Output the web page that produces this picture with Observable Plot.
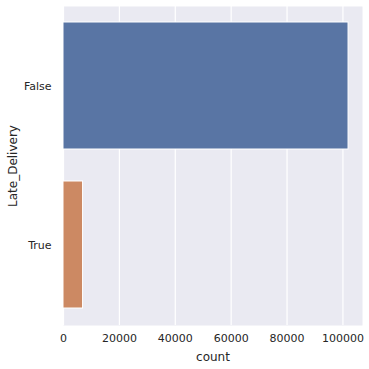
<!DOCTYPE html>
<html>
<head>
<meta charset="utf-8">
<script src="https://cdn.jsdelivr.net/npm/d3@7"></script>
<script src="https://cdn.jsdelivr.net/npm/@observablehq/plot@0.6"></script>
<style>
  html, body { margin: 0; padding: 0; background: #ffffff; }
  svg { display: block; }
</style>
</head>
<body>
<div id="chart"></div>
<script>
const categories = ["False", "True"];
const counts = [102000, 7000];
const colors = ["#5975A4", "#CC8963"];
const xTicks = [0, 20000, 40000, 60000, 80000, 100000];
const xLabel = "count";
const yLabel = "Late_Delivery";

const data = categories.map((c, i) => ({cat: c, count: counts[i]}));

const chart = Plot.plot({
  width: 369,
  height: 369,
  marginLeft: 63,
  marginRight: 7,
  marginTop: 6,
  marginBottom: 44,
  style: {fontFamily: "DejaVu Sans", fontSize: "11px", color: "#262626", background: "#ffffff"},
  x: {domain: [0, 107000]},
  y: {domain: categories, paddingInner: 0.2, paddingOuter: 0.1},
  color: {domain: categories, range: colors},
  marks: [
    Plot.frame({fill: "#EAEAF2", stroke: null}),
    Plot.gridX(xTicks, {stroke: "#ffffff", strokeOpacity: 1, strokeWidth: 1.2}),
    Plot.barX(data, {x: "count", y: "cat", fill: "cat", stroke: "#ffffff", strokeWidth: 1}),
    Plot.axisX({ticks: xTicks, tickSize: 0, tickPadding: 9, tickFormat: d => String(d), label: null, fontSize: 11}),
    Plot.axisY({tickSize: 0, tickPadding: 12, label: null, fontSize: 11}),
    Plot.text([xLabel], {frameAnchor: "bottom", dy: 35, fontSize: 12, fill: "#262626"}),
    Plot.text([yLabel], {frameAnchor: "left", dx: -50, rotate: -90, textAnchor: "middle", fontSize: 12, fill: "#262626"})
  ]
});
document.getElementById("chart").appendChild(chart);
</script>
</body>
</html>
